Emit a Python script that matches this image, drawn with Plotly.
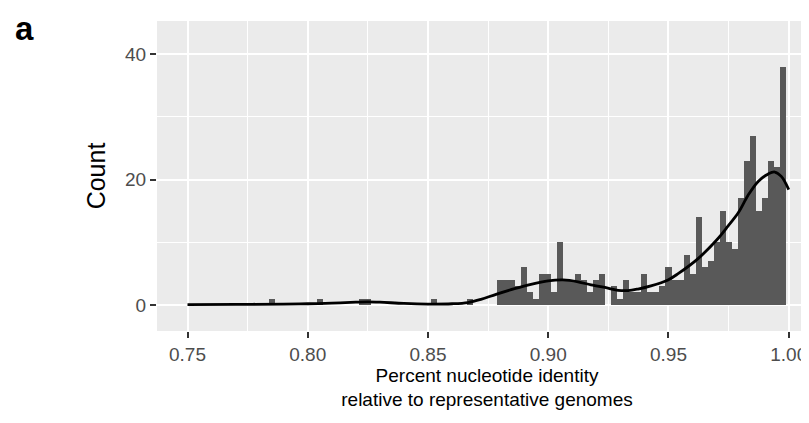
import plotly.graph_objects as go

# ---- data ----
bin_start = 0.75
bin_width = 0.0025
# counts for the 100 bins centred at 0.75, 0.7525, ..., 0.9975
counts = [
    0, 0, 0, 0, 0, 0, 0, 0, 0, 0,      # 0.7500 - 0.7725
    0, 0, 0, 0, 1, 0, 0, 0, 0, 0,      # 0.7750 - 0.7975
    0, 0, 1, 0, 0, 0, 0, 0, 0, 1,      # 0.8000 - 0.8225
    1, 0, 0, 0, 0, 0, 0, 0, 0, 0,      # 0.8250 - 0.8475
    0, 1, 0, 0, 0, 0, 0, 1, 0, 0,      # 0.8500 - 0.8725
    0, 0, 4, 4, 4, 3, 6, 2, 1, 5,      # 0.8750 - 0.8975
    5, 2, 10, 4, 4, 5, 4, 2, 4, 5,     # 0.9000 - 0.9225
    0, 3, 1, 4, 2, 2, 5, 2, 2, 3,      # 0.9250 - 0.9475
    6, 4, 4, 8, 5, 14, 6, 7, 10, 15,   # 0.9500 - 0.9725
    10, 9, 17, 23, 27, 15, 17, 23, 22, 38,  # 0.9750 - 0.9975
]
bin_centers = [round(bin_start + bin_width * i, 4) for i in range(len(counts))]

# density curve (scaled to counts)
dens_x = [0.75, 0.77, 0.79, 0.80, 0.81, 0.82, 0.825, 0.83, 0.84, 0.85, 0.86,
          0.8666, 0.872, 0.8783, 0.886, 0.8928, 0.90, 0.9061, 0.9124, 0.9178,
          0.9248, 0.929, 0.9332, 0.9373, 0.9427, 0.9498, 0.954, 0.9623, 0.9706,
          0.9748, 0.979, 0.9831, 0.9873, 0.9915, 0.9942, 0.9969, 1.0]
dens_y = [0.05, 0.1, 0.15, 0.2, 0.3, 0.45, 0.5, 0.45, 0.25, 0.15, 0.2,
          0.4, 0.9, 1.7, 2.6, 3.3, 3.85, 4.0, 3.7, 3.2,
          2.7, 2.35, 2.3, 2.55, 3.05, 4.0, 5.0, 7.4, 10.6,
          12.6, 14.7, 17.5, 19.7, 20.9, 21.2, 20.5, 18.4]

x_ticks = [0.75, 0.80, 0.85, 0.90, 0.95, 1.00]
x_ticktext = ["0.75", "0.80", "0.85", "0.90", "0.95", "1.00"]
x_minor = [0.775, 0.825, 0.875, 0.925, 0.975]
y_ticks = [0, 20, 40]
y_ticktext = ["0", "20", "40"]
y_minor = [10, 30]

FONT = "Liberation Sans, Arial, sans-serif"

fig = go.Figure()
fig.add_trace(go.Bar(
    x=bin_centers, y=counts, width=bin_width,
    marker=dict(color="#595959", line=dict(width=0)),
    hoverinfo="x+y", showlegend=False,
))
fig.add_trace(go.Scatter(
    x=dens_x, y=dens_y, mode="lines",
    line=dict(color="black", width=2.8, shape="spline", smoothing=1.0),
    showlegend=False,
))

fig.update_layout(
    width=809, height=423,
    margin=dict(l=149, r=0, t=13, b=100),
    paper_bgcolor="white",
    plot_bgcolor="#EBEBEB",
    bargap=0,
    font=dict(family=FONT, color="black"),
    xaxis=dict(
        range=[0.73732, 1.01175], automargin=False,
        tickmode="array", tickvals=x_ticks, ticktext=x_ticktext,
        showgrid=True, gridcolor="white", gridwidth=2,
        minor=dict(tickmode="array", tickvals=x_minor, showgrid=True,
                   gridcolor="white", gridwidth=1),
        ticks="outside", ticklen=6, tickwidth=2, tickcolor="#333333",
        tickfont=dict(size=19, color="#4D4D4D", family=FONT),
        zeroline=False, showline=False,
        title=dict(text="Percent nucleotide identity<br>relative to representative genomes",
                   font=dict(size=19, color="black", family=FONT), standoff=3),
    ),
    yaxis=dict(
        range=[-4.14, 45.27], automargin=False,
        tickmode="array", tickvals=y_ticks, ticktext=y_ticktext,
        showgrid=True, gridcolor="white", gridwidth=2,
        minor=dict(tickmode="array", tickvals=y_minor, showgrid=True,
                   gridcolor="white", gridwidth=1),
        ticks="outside", ticklen=6, tickwidth=2, tickcolor="#333333",
        tickfont=dict(size=19, color="#4D4D4D", family=FONT),
        zeroline=False, showline=False,
        title=dict(text="Count", font=dict(size=25, color="black", family=FONT), standoff=12),
    ),
    annotations=[dict(
        text="<b>a</b>", xref="paper", yref="paper",
        x=(6 - 149) / 660, y=1 + 12 / 310.3,
        xanchor="left", yanchor="top", showarrow=False, borderpad=0,
        font=dict(size=33, family=FONT, color="black"),
    )],
)

fig.write_html("out.html")
